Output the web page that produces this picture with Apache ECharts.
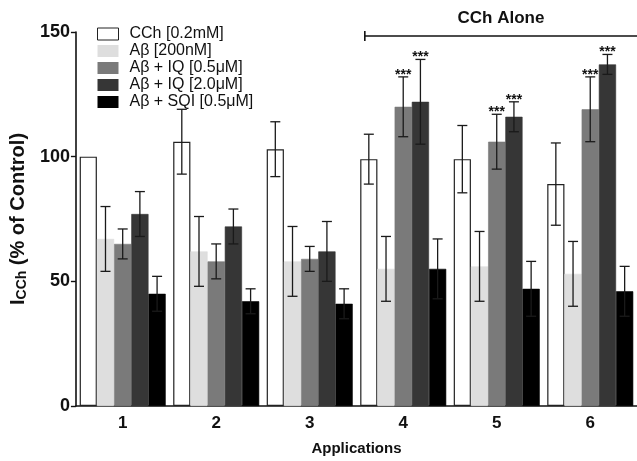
<!DOCTYPE html>
<html>
<head>
<meta charset="utf-8">
<script src="https://cdn.jsdelivr.net/npm/echarts@6/dist/echarts.min.js"></script>
<style>html,body{margin:0;padding:0;background:#fff}#c{width:637px;height:461px}</style>
</head>
<body>
<div id="c"></div>
<script>
const categories = ['1', '2', '3', '4', '5', '6'];
const seriesNames = ['CCh [0.2mM]', 'Aβ [200nM]', 'Aβ + IQ [0.5μM]', 'Aβ + IQ [2.0μM]', 'Aβ + SQI [0.5μM]'];
const cchMean = [100, 106, 103, 99, 99, 89];
const cchErr = [0, 13, 11, 10, 13.5, 16.5];
const abMean = [67, 62, 58, 55, 56, 53];
const abErr = [13, 14, 14, 13, 14, 13];
const iq05Mean = [65, 58, 59, 120, 106, 119];
const iq05Err = [6, 7, 5, 12, 11, 13];
const iq20Mean = [77, 72, 62, 122, 116, 137];
const iq20Err = [9, 7, 12, 17, 6, 4];
const sqiMean = [45, 42, 41, 55, 47, 46];
const sqiErr = [7, 5, 6, 12, 11, 10];
const iq05Sig = [0, 0, 0, 1, 1, 1];
const iq20Sig = [0, 0, 0, 1, 1, 1];
const yTicks = [0, 50, 100, 150];
const bracketLabel = 'CCh Alone';
const bracketStart = 3;
const bracketValue = 148.4;

const means = [cchMean, abMean, iq05Mean, iq20Mean, sqiMean];
const errs = [cchErr, abErr, iq05Err, iq20Err, sqiErr];
const sigs = [null, null, iq05Sig, iq20Sig, null];
const colors = ['#ffffff', '#dedede', '#7a7a7a', '#363636', '#000000'];
const BAR_W = 17.2;
const FONT = 'Arial, "Liberation Sans", Helvetica, sans-serif';

const chart = echarts.init(document.getElementById('c'), null, {renderer: 'canvas'});

const series = [];
means.forEach((m, k) => {
  series.push({
    name: seriesNames[k],
    type: 'bar',
    data: m,
    barWidth: BAR_W,
    barGap: '0%',
    itemStyle: {
      color: colors[k],
      borderColor: k === 0 ? '#222' : colors[k],
      borderWidth: k === 0 ? 1.2 : 0.6
    },
    z: 2
  });
});

means.forEach((m, k) => {
  const data = m.map((v, i) => [i, v, errs[k][i], sigs[k] ? sigs[k][i] : 0]);
  series.push({
    type: 'custom',
    name: 'err' + k,
    data: data,
    z: 5,
    silent: true,
    clip: false,
    renderItem: function (params, api) {
      const i = api.value(0), v = api.value(1), e = api.value(2), s = api.value(3);
      const c = api.coord([i, v]);
      const off = (k - 2) * BAR_W;
      const x = c[0] + off;
      const children = [];
      if (e > 0) {
        const top = api.coord([i, v + e])[1];
        const bot = api.coord([i, v - e])[1];
        const st = {stroke: '#1a1a1a', lineWidth: 1.3};
        children.push({type: 'line', shape: {x1: x, y1: top, x2: x, y2: bot}, style: st});
        children.push({type: 'line', shape: {x1: x - 5, y1: top, x2: x + 5, y2: top}, style: st});
        children.push({type: 'line', shape: {x1: x - 5, y1: bot, x2: x + 5, y2: bot}, style: st});
        if (s) {
          children.push({type: 'text', style: {text: '***', x: x, y: top + 5, align: 'center', verticalAlign: 'bottom', font: 'bold 14px ' + FONT, fill: '#111'}});
        }
      }
      return {type: 'group', children: children};
    }
  });
});

// bracket "CCh Alone"
series.push({
  type: 'custom',
  name: 'bracket',
  data: [[bracketStart, bracketValue]],
  clip: false,
  silent: true,
  z: 6,
  renderItem: function (params, api) {
    const c = api.coord([api.value(0), api.value(1)]);
    const x1 = c[0] - 2 * BAR_W - 4;
    const x2 = params.coordSys.x + params.coordSys.width;
    const y = c[1];
    const st = {stroke: '#111', lineWidth: 1.6};
    return {type: 'group', children: [
      {type: 'line', shape: {x1: x1, y1: y, x2: x2, y2: y}, style: st},
      {type: 'line', shape: {x1: x1, y1: y - 5, x2: x1, y2: y + 5}, style: st},
      {type: 'text', style: {text: bracketLabel, x: (x1 + x2) / 2, y: y - 9, align: 'center', verticalAlign: 'bottom', font: 'bold 17px ' + FONT, fill: '#111'}}
    ]};
  }
});

chart.setOption({
  animation: false,
  backgroundColor: '#fff',
  textStyle: {fontFamily: FONT},
  grid: {left: 72, right: 0, top: 32, bottom: 52},
  legend: {
    show: true,
    data: seriesNames.map((n, k) => ({name: n, icon: 'rect', itemStyle: {color: colors[k], borderColor: k === 0 ? '#222' : colors[k], borderWidth: k === 0 ? 1 : 0}})),
    orient: 'vertical',
    left: 97,
    top: 26,
    padding: 0,
    itemWidth: 21,
    itemHeight: 12,
    itemGap: 1,
    selectedMode: false,
    textStyle: {fontSize: 16, lineHeight: 16, color: '#111', fontFamily: FONT, padding: [0, 0, 0, 6]}
  },
  xAxis: {
    type: 'category',
    data: categories,
    name: 'Applications',
    nameLocation: 'middle',
    nameGap: 35,
    nameTextStyle: {fontSize: 15, fontWeight: 'bold', color: '#111'},
    axisLine: {lineStyle: {color: '#111', width: 1.6}},
    axisTick: {alignWithLabel: true, length: 5, lineStyle: {color: '#111', width: 1.4}},
    axisLabel: {fontSize: 17, fontWeight: 'bold', color: '#111', margin: 9},
    splitLine: {show: false}
  },
  yAxis: {
    type: 'value',
    min: yTicks[0],
    max: yTicks[yTicks.length - 1],
    interval: 50,
    name: '{a|I}{b|CCh}{a| (% of Control)}',
    nameLocation: 'middle',
    nameGap: 42,
    nameRotate: 90,
    nameTextStyle: {
      rich: {
        a: {fontSize: 20, fontWeight: 'bold', color: '#111', fontFamily: FONT},
        b: {fontSize: 14, fontWeight: 'bold', color: '#111', fontFamily: FONT, padding: [8, 0, 0, 0]}
      }
    },
    axisLine: {show: true, lineStyle: {color: '#111', width: 1.6}},
    axisTick: {show: true, length: 5, lineStyle: {color: '#111', width: 1.4}},
    axisLabel: {fontSize: 18, fontWeight: 'bold', color: '#111', margin: 6},
    splitLine: {show: false}
  },
  series: series
});
</script>
</body>
</html>
